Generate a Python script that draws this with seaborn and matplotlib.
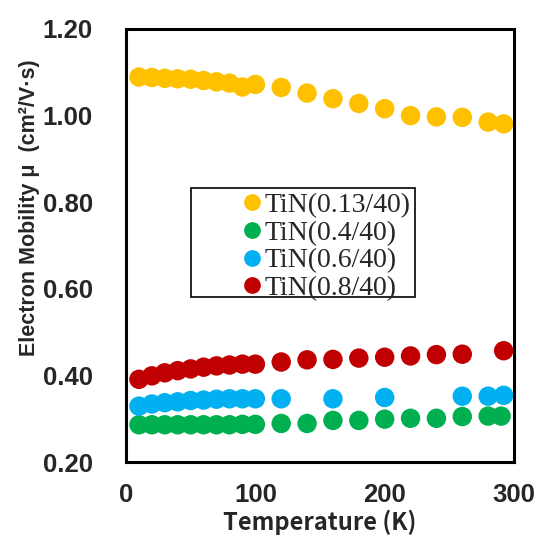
import pandas as pd
import matplotlib
matplotlib.use('Agg')
import matplotlib.pyplot as plt
import seaborn as sns
from matplotlib.patches import Rectangle

# ─── data ──────────────────────────────────────────────────────────────────
labels = ['TiN(0.13/40)', 'TiN(0.4/40)', 'TiN(0.6/40)', 'TiN(0.8/40)']
colors = ['#FFC000', '#00B050', '#00B0F0', '#C00000']

temp_013 = [10, 20, 30, 40, 50, 60, 70, 80, 90, 100, 120, 140, 160, 180, 200, 220, 240, 260, 280, 292]
mu_013 = [1.089, 1.088, 1.086, 1.085, 1.084, 1.081, 1.078, 1.075, 1.066, 1.072,
          1.065, 1.052, 1.039, 1.028, 1.016, 1.000, 0.997, 0.996, 0.985, 0.981]

temp_04 = [10, 20, 30, 40, 50, 60, 70, 80, 90, 100, 120, 140, 160, 180, 200, 220, 240, 260, 280, 290]
mu_04 = [0.286, 0.286, 0.286, 0.286, 0.286, 0.286, 0.286, 0.286, 0.287, 0.287,
         0.289, 0.289, 0.296, 0.296, 0.299, 0.301, 0.301, 0.305, 0.306, 0.306]

temp_06 = [10, 20, 30, 40, 50, 60, 70, 80, 90, 100, 120, 160, 200, 260, 280, 292]
mu_06 = [0.329, 0.334, 0.337, 0.339, 0.342, 0.343, 0.345, 0.346, 0.346, 0.346,
         0.346, 0.346, 0.349, 0.352, 0.352, 0.354]

temp_08 = [10, 20, 30, 40, 50, 60, 70, 80, 90, 100, 120, 140, 160, 180, 200, 220, 240, 260, 292]
mu_08 = [0.391, 0.399, 0.406, 0.411, 0.415, 0.419, 0.422, 0.424, 0.426, 0.426,
         0.431, 0.436, 0.437, 0.440, 0.442, 0.445, 0.448, 0.449, 0.457]

x_ticks = [0, 100, 200, 300]
y_ticks = [0.20, 0.40, 0.60, 0.80, 1.00, 1.20]

# long-form table for seaborn
df = pd.concat([
    pd.DataFrame({'T': t, 'mu': m, 'sample': lab})
    for t, m, lab in zip([temp_013, temp_04, temp_06, temp_08],
                         [mu_013, mu_04, mu_06, mu_08], labels)
], ignore_index=True)

# ─── plot ─────────────────────────────────────────────────────────────────
sns.set_style('white')
plt.rcParams['font.family'] = ['Liberation Sans', 'DejaVu Sans']

fig = plt.figure(figsize=(5.36, 5.41), dpi=100)
ax = fig.add_axes([0.2351, 0.146, 0.7239, 0.8004])

sns.scatterplot(data=df, x='T', y='mu', hue='sample', hue_order=labels,
                palette=dict(zip(labels, colors)), s=196, linewidth=0,
                ax=ax)

ax.set_xlim(0, 300)
ax.set_ylim(0.2, 1.2)
ax.set_xticks(x_ticks)
ax.set_yticks(y_ticks)
ax.set_yticklabels([f'{v:.2f}' for v in y_ticks])

for sp in ax.spines.values():
    sp.set_linewidth(2.2)
    sp.set_color('black')
    sp.set_visible(True)

ax.tick_params(axis='y', direction='in', length=5, width=1.8, pad=24,
               labelsize=18.5)
ax.tick_params(axis='x', direction='in', length=5, width=1.8, pad=15,
               labelsize=18.5)
for lbl in ax.get_xticklabels() + ax.get_yticklabels():
    lbl.set_fontweight('bold')

ax.set_xlabel('Temperature (K)', fontsize=17, fontweight='bold',
              family=['Noto Sans CJK JP', 'DejaVu Sans'], labelpad=2)
ax.set_ylabel('Electron Mobility μ  (cm²/V·s)', fontsize=15.5, fontweight='bold')
ax.yaxis.set_label_coords(-0.222, 0.587)

# legend: text without frame, box drawn separately (wider on the left)
handles, _ = ax.get_legend_handles_labels()
ax.legend(handles, labels, frameon=False, loc='center left',
          bbox_to_anchor=(0.30, 0.497), borderpad=0, borderaxespad=0,
          handlelength=0.7, handletextpad=0.1, labelspacing=0.08,
          markerscale=0.86, prop={'family': 'Liberation Serif', 'size': 20})
ax.add_patch(Rectangle((0.1675, 0.381), 0.5775, 0.252, transform=ax.transAxes,
                       fill=False, edgecolor='black', linewidth=1.2, zorder=5))

fig.savefig('out.png', dpi=100)
